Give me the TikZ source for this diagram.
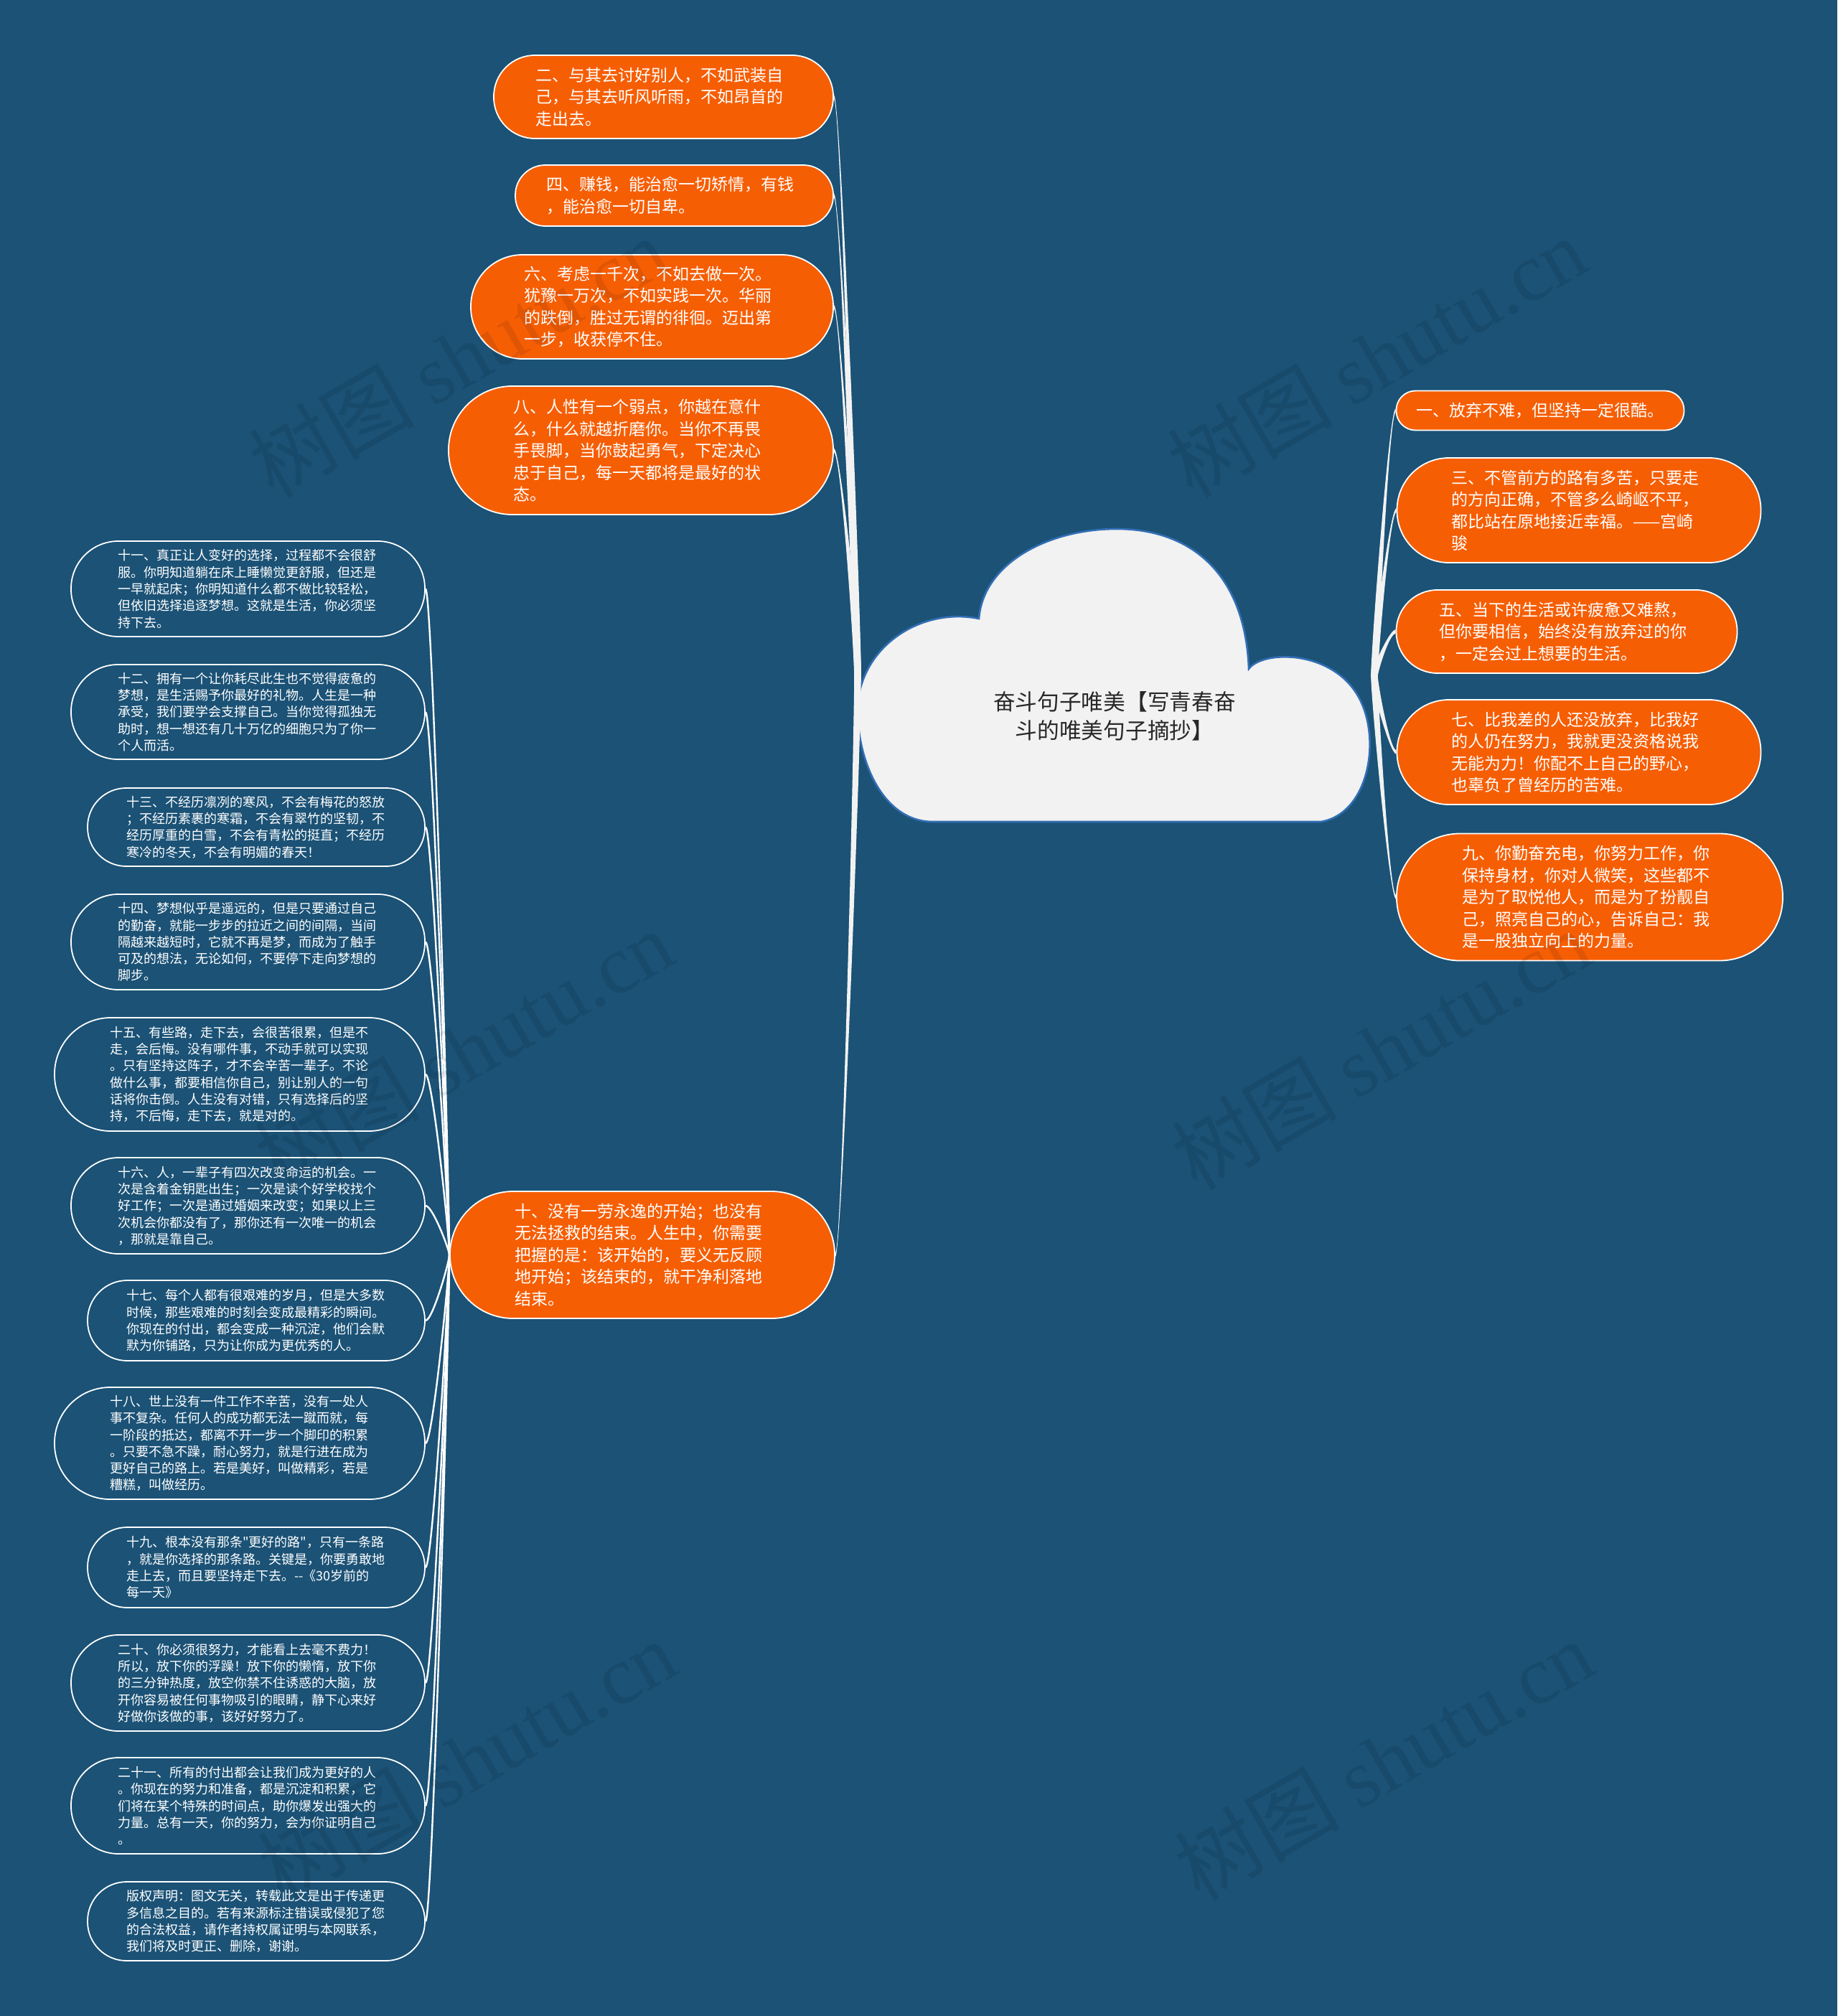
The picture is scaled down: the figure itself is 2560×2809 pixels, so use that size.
\documentclass[tikz,border=0pt]{standalone}
\usepackage{fontspec}
\newfontfamily\cjk{Noto Sans CJK SC}
\newfontfamily\wmlat{Liberation Serif}
\usetikzlibrary{calc}
\definecolor{bgc}{RGB}{27,82,118}
\definecolor{orc}{RGB}{246,94,4}
\definecolor{cloudc}{RGB}{242,242,242}
\definecolor{cloudb}{RGB}{50,110,180}
\definecolor{connc}{RGB}{242,242,242}
\definecolor{titlec}{RGB}{40,40,40}
\tikzset{
  onode/.style={rectangle, draw=white, line width=0.9pt, fill=orc, text=white, inner sep=0pt, align=left,
    font=\cjk\fontsize{11.5pt}{15.25pt}\selectfont, text width=178pt},
  wnode/.style={rectangle, draw=white, line width=0.9pt, text=white, inner sep=0pt, align=left,
    font=\cjk\fontsize{9pt}{11.65pt}\selectfont, text width=181pt},
  pill/.style 2 args={minimum width=#1*0.5pt, minimum height=#2*0.5pt, rounded corners=#2*0.25pt-0.3pt},
  lvlone/.style={fill=connc},
  lvltwo/.style={draw=white, line width=1.2pt},
  wm/.style={text=black, text opacity=0.09, font=\fontsize{57.5pt}{60pt}\selectfont, inner sep=0pt}
}
\newcommand\tconn[4]{%
  \coordinate (tca) at ($(#1)!0.1!(#1|-#2)$);
  \coordinate (tcb) at ($(#2)!0.3!(#1|-#2)$);
  \fill[lvlone] ($(#1)!#3!90:(tca)$) .. controls ($(tca)!#3!-90:(#1)$) and ($(tcb)!#4!90:(#2)$) .. ($(#2)!#4!-90:(tcb)$)
    -- ($(#2)!#4!90:(tcb)$) .. controls ($(tcb)!#4!-90:(#2)$) and ($(tca)!#3!90:(#1)$) .. ($(#1)!#3!-90:(tca)$) -- cycle;
}
\newcommand\sconn[2]{%
  \draw[lvltwo] (#1) .. controls ($(#1)!0.1!(#1|-#2)$) and ($(#2)!0.3!(#1|-#2)$) .. (#2);
}
\begin{document}
\begin{tikzpicture}[x=0.5pt,y=-0.5pt]
\fill[bgc] (0,0) rectangle (2560,2809);
\useasboundingbox (0,0) rectangle (2560,2809);

% cloud
\filldraw[fill=cloudc, draw=cloudb, line width=1.3pt]
  (1364,862) .. controls (1370,785) and (1460,737) .. (1556,737)
  .. controls (1660,737) and (1735,800) .. (1740,932)
  .. controls (1760,905) and (1860,905) .. (1895,975)
  .. controls (1925,1035) and (1905,1135) .. (1840,1145)
  -- (1300,1145)
  .. controls (1230,1145) and (1195,1060) .. (1195,990)
  .. controls (1195,905) and (1280,845) .. (1364,862) -- cycle;
\node[font=\cjk\fontsize{15.35pt}{20pt}\selectfont, text=titlec, align=center, inner sep=0pt] (center) at (1553,998)
  {奋斗句子唯美【写青春奋\\斗的唯美句子摘抄】};
\coordinate (lroot) at (1195,942);
\coordinate (rroot) at (1915,942);

% right orange nodes
\node[onode, pill={401}{55}, text width=173pt] (n1) at (2146,572) {一、放弃不难，但坚持一定很酷。};
\node[onode, pill={507}{146}] (n3) at (2200,711) {三、不管前方的路有多苦，只要走\\的方向正确，不管多么崎岖不平，\\都比站在原地接近幸福。——宫崎\\骏};
\node[onode, pill={475}{116}] (n5) at (2183,880) {五、当下的生活或许疲惫又难熬，\\但你要相信，始终没有放弃过的你\\，一定会过上想要的生活。};
\node[onode, pill={507}{146}] (n7) at (2200,1048) {七、比我差的人还没放弃，比我好\\的人仍在努力，我就更没资格说我\\无能为力！你配不上自己的野心，\\也辜负了曾经历的苦难。};
\node[onode, pill={538}{177}] (n9) at (2215,1250) {九、你勤奋充电，你努力工作，你\\保持身材，你对人微笑，这些都不\\是为了取悦他人，而是为了扮靓自\\己，照亮自己的心，告诉自己：我\\是一股独立向上的力量。};

% left orange nodes
\node[onode, pill={473}{116}] (n2) at (924.5,135) {二、与其去讨好别人，不如武装自\\己，与其去听风听雨，不如昂首的\\走出去。};
\node[onode, pill={443}{85}] (n4) at (939.5,272.5) {四、赚钱，能治愈一切矫情，有钱\\，能治愈一切自卑。};
\node[onode, pill={505}{145}] (n6) at (908.5,427.5) {六、考虑一千次，不如去做一次。\\犹豫一万次，不如实践一次。华丽\\的跌倒，胜过无谓的徘徊。迈出第\\一步，收获停不住。};
\node[onode, pill={536}{179}] (n8) at (893,627.5) {八、人性有一个弱点，你越在意什\\么，什么就越折磨你。当你不再畏\\手畏脚，当你鼓起勇气，下定决心\\忠于自己，每一天都将是最好的状\\态。};
\node[onode, pill={536}{177}] (n10) at (895,1748.5) {十、没有一劳永逸的开始；也没有\\无法拯救的结束。人生中，你需要\\把握的是：该开始的，要义无反顾\\地开始；该结束的，就干净利落地\\结束。};

% far-left outlined nodes
\node[wnode, pill={493}{133}] (m11) at (345.5,820.5) {十一、真正让人变好的选择，过程都不会很舒\\服。你明知道躺在床上睡懒觉更舒服，但还是\\一早就起床；你明知道什么都不做比较轻松，\\但依旧选择追逐梦想。这就是生活，你必须坚\\持下去。};
\node[wnode, pill={493}{132}] (m12) at (345.5,992) {十二、拥有一个让你耗尽此生也不觉得疲惫的\\梦想，是生活赐予你最好的礼物。人生是一种\\承受，我们要学会支撑自己。当你觉得孤独无\\助时，想一想还有几十万亿的细胞只为了你一\\个人而活。};
\node[wnode, pill={470}{109}] (m13) at (357,1152.5) {十三、不经历凛冽的寒风，不会有梅花的怒放\\；不经历素裹的寒霜，不会有翠竹的坚韧，不\\经历厚重的白雪，不会有青松的挺直；不经历\\寒冷的冬天，不会有明媚的春天！};
\node[wnode, pill={493}{133}] (m14) at (345.5,1312.5) {十四、梦想似乎是遥远的，但是只要通过自己\\的勤奋，就能一步步的拉近之间的间隔，当间\\隔越来越短时，它就不再是梦，而成为了触手\\可及的想法，无论如何，不要停下走向梦想的\\脚步。};
\node[wnode, pill={516}{158}] (m15) at (334,1497) {十五、有些路，走下去，会很苦很累，但是不\\走，会后悔。没有哪件事，不动手就可以实现\\。只有坚持这阵子，才不会辛苦一辈子。不论\\做什么事，都要相信你自己，别让别人的一句\\话将你击倒。人生没有对错，只有选择后的坚\\持，不后悔，走下去，就是对的。};
\node[wnode, pill={493}{134}] (m16) at (345.5,1680) {十六、人，一辈子有四次改变命运的机会。一\\次是含着金钥匙出生；一次是读个好学校找个\\好工作；一次是通过婚姻来改变；如果以上三\\次机会你都没有了，那你还有一次唯一的机会\\，那就是靠自己。};
\node[wnode, pill={470}{112}] (m17) at (357,1840) {十七、每个人都有很艰难的岁月，但是大多数\\时候，那些艰难的时刻会变成最精彩的瞬间。\\你现在的付出，都会变成一种沉淀，他们会默\\默为你铺路，只为让你成为更优秀的人。};
\node[wnode, pill={516}{156}] (m18) at (334,2011) {十八、世上没有一件工作不辛苦，没有一处人\\事不复杂。任何人的成功都无法一蹴而就，每\\一阶段的抵达，都离不开一步一个脚印的积累\\。只要不急不躁，耐心努力，就是行进在成为\\更好自己的路上。若是美好，叫做精彩，若是\\糟糕，叫做经历。};
\node[wnode, pill={470}{112}] (m19) at (357,2184) {十九、根本没有那条"更好的路"，只有一条路\\，就是你选择的那条路。关键是，你要勇敢地\\走上去，而且要坚持走下去。-{}-《30岁前的\\每一天》};
\node[wnode, pill={493}{134}] (m20) at (345.5,2345) {二十、你必须很努力，才能看上去毫不费力！\\所以，放下你的浮躁！放下你的懒惰，放下你\\的三分钟热度，放空你禁不住诱惑的大脑，放\\开你容易被任何事物吸引的眼睛，静下心来好\\好做你该做的事，该好好努力了。};
\node[wnode, pill={493}{134}] (m21) at (345.5,2516) {二十一、所有的付出都会让我们成为更好的人\\。你现在的努力和准备，都是沉淀和积累，它\\们将在某个特殊的时间点，助你爆发出强大的\\力量。总有一天，你的努力，会为你证明自己\\。};
\node[wnode, pill={470}{110}] (m22) at (357,2677) {版权声明：图文无关，转载此文是出于传递更\\多信息之目的。若有来源标注错误或侵犯了您\\的合法权益，请作者持权属证明与本网联系，\\我们将及时更正、删除，谢谢。};

% level-one connectors
\foreach \c in {n2,n4,n6,n8,n10} {\tconn{lroot}{\c.east}{2.4pt}{1.4pt}}
\foreach \c in {n1,n3,n5,n7,n9} {\tconn{rroot}{\c.west}{2.4pt}{1.4pt}}
% level-two connectors
\foreach \c in {m11,m12,m13,m14,m15,m16,m17,m18,m19,m20,m21,m22} {\sconn{n10.west}{\c.east}}

% watermarks
\foreach \px/\py [count=\i] in {660/535, 1940/535, 668/1500, 1946/1500, 672/2490, 1950/2490} {
  \node[wm, rotate=30, anchor=base] (wm\i) at (\px,\py) {\cjk 树图\ \wmlat shutu.cn};
}
\end{tikzpicture}
\end{document}
